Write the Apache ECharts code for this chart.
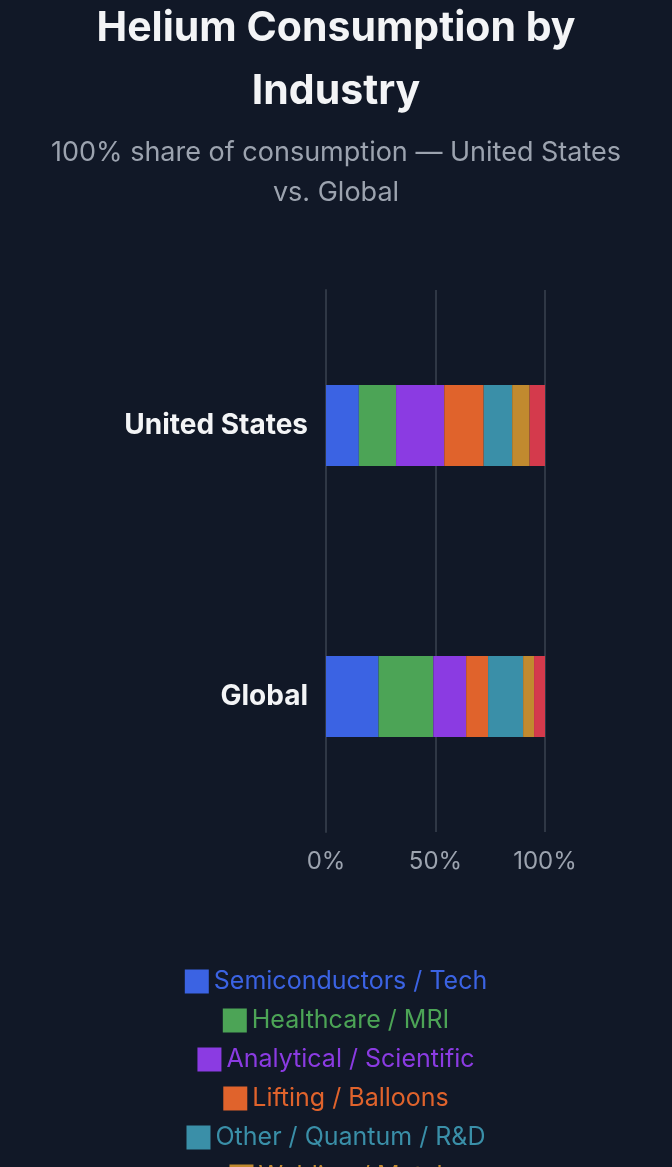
<!DOCTYPE html>
<html>
<head>
<meta charset="UTF-8">
<script src="https://cdn.jsdelivr.net/npm/echarts/dist/echarts.min.js"></script>
<style>html,body{margin:0;background:#111827;}</style>
</head>
<body>
<div id="chart" style="width:672px;height:1167px;"></div>
<script>
const regions = ['United States', 'Global'];
const industries = ['Semiconductors / Tech', 'Healthcare / MRI', 'Analytical / Scientific', 'Lifting / Balloons', 'Other / Quantum / R&D', 'Welding / Metal', 'Leak Detection'];
const colors = ['#3B63E3', '#4CA456', '#8B3BE2', '#E0632C', '#3A8FA8', '#C18A2F', '#D43A4C'];
// share (%) per industry: [United States, Global]
const shares = [
  [15, 24],
  [17, 25],
  [22, 15],
  [18, 10],
  [13, 16],
  [8, 5],
  [7, 5]
];

// one legend per row so every row is centred on its own
const legends = industries.map((n, i) => ({
  left: 'center', top: 964 + i * 39,
  itemWidth: 24, itemHeight: 24, icon: 'rect', itemGap: 0,
  textStyle: { fontSize: 25, fontFamily: 'Inter', color: colors[i] },
  data: [n]
}));

const chart = echarts.init(document.getElementById('chart'));
chart.setOption({
  backgroundColor: '#111827',
  title: {
    text: 'Helium Consumption by\nIndustry',
    subtext: '100% share of consumption — United States\nvs. Global',
    left: 'center', top: -8, itemGap: 10,
    textStyle: { color: '#F3F4F6', fontSize: 41, fontWeight: 'bold', lineHeight: 63, fontFamily: 'Inter' },
    subtextStyle: { color: '#9CA3AF', fontSize: 27, lineHeight: 40, fontFamily: 'Inter' }
  },
  legend: legends,
  grid: { left: 326, right: 127, top: 290, bottom: 335 },
  xAxis: {
    type: 'value', min: 0, max: 100, interval: 50,
    axisLabel: { formatter: '{value}%', color: '#9CA3AF', fontSize: 24, margin: 18, fontFamily: 'Inter' },
    splitLine: { lineStyle: { color: '#2F3745', width: 2 } },
    axisLine: { show: false }, axisTick: { show: false }
  },
  yAxis: {
    type: 'category', inverse: true, data: regions,
    axisLabel: { color: '#F3F4F6', fontSize: 28, fontWeight: 'bold', margin: 18, fontFamily: 'Inter' },
    axisLine: { lineStyle: { color: '#2F3745', width: 2 } },
    axisTick: { show: false }
  },
  series: industries.map((n, i) => ({
    name: n, type: 'bar', stack: 'total', barWidth: 81,
    itemStyle: { color: colors[i] },
    data: shares[i]
  }))
});
</script>
</body>
</html>
